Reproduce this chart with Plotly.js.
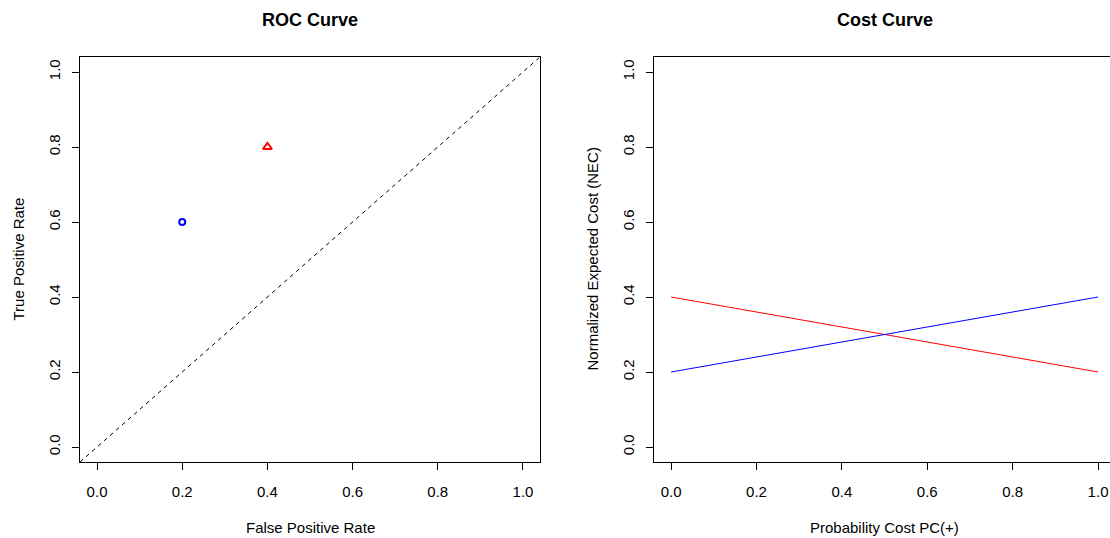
<!DOCTYPE html>
<html>
<head>
<meta charset="utf-8">
<script src="https://cdn.plot.ly/plotly-3.0.1.min.js"></script>
<style>html,body{margin:0;padding:0;background:#fff;}#chart{width:1110px;height:538px;}</style>
</head>
<body>
<div id="chart"></div>
<script>
// ROC points (FPR, TPR)
const rocBlueFPR = [0.2];
const rocBlueTPR = [0.6];
const rocRedFPR = [0.4];
const rocRedTPR = [0.8];
// Cost curve: probability cost PC(+) and normalized expected cost
const pcValues = [0.0, 1.0];
const necRed = [0.4, 0.2];
const necBlue = [0.2, 0.4];
const tickVals = [0, 0.2, 0.4, 0.6, 0.8, 1.0];
const tickText = ["0.0", "0.2", "0.4", "0.6", "0.8", "1.0"];

const FONT = "Liberation Sans, Arial, sans-serif";
const W = 1110, H = 538;

const traces = [
  {x: rocBlueFPR, y: rocBlueTPR, xaxis: "x", yaxis: "y", mode: "markers", type: "scatter",
   marker: {symbol: "circle-open", size: 6, color: "#0000ff", line: {width: 2, color: "#0000ff"}}, hoverinfo: "x+y"},
  {x: rocRedFPR, y: rocRedTPR, xaxis: "x", yaxis: "y", mode: "markers", type: "scatter",
   marker: {symbol: "triangle-up-open", size: 8, color: "#ff0000", line: {width: 2, color: "#ff0000"}}, hoverinfo: "x+y"},
  {x: pcValues, y: necRed, xaxis: "x2", yaxis: "y2", mode: "lines", type: "scatter",
   line: {color: "#ff0000", width: 1}},
  {x: pcValues, y: necBlue, xaxis: "x2", yaxis: "y2", mode: "lines", type: "scatter",
   line: {color: "#0000ff", width: 1}}
];

function ax(domain, range, extra) {
  return Object.assign({
    domain: domain, range: range, autorange: false,
    tickmode: "array", tickvals: tickVals, ticktext: tickText,
    ticks: "outside", ticklen: 7, tickwidth: 1, tickcolor: "#000",
    showline: true, linecolor: "#000", linewidth: 1,
    showgrid: false, zeroline: false, fixedrange: true,
    tickfont: {family: FONT, size: 15, color: "#000"}
  }, extra || {});
}

const yDom = [76 / H, 481 / H];

const layout = {
  width: W, height: H,
  margin: {l: 0, r: 0, t: 0, b: 0, pad: 0},
  paper_bgcolor: "#fff", plot_bgcolor: "#fff",
  showlegend: false,
  xaxis: ax([80 / W, 540 / W], [-0.04, 1.04], {anchor: "y", mirror: true, ticklabelstandoff: 9}),
  yaxis: ax(yDom, [-0.04, 1.04], {anchor: "x", mirror: true, tickangle: -90, ticklabelstandoff: 6}),
  xaxis2: ax([654 / W, 1], [-0.04, 1.028], {anchor: "y2", mirror: true, ticklabelstandoff: 9}),
  yaxis2: ax(yDom, [-0.04, 1.04], {anchor: "x2", mirror: false, tickangle: -90, ticklabelstandoff: 6}),
  shapes: [
    {type: "line", xref: "x domain", yref: "y domain", x0: 0, y0: 0, x1: 1, y1: 1,
     line: {color: "#000", width: 1, dash: "4px,4px"}}
  ],
  annotations: [
    {text: "<b>ROC Curve</b>", xref: "paper", yref: "paper", x: 310 / W, y: (H - 20) / H,
     xanchor: "center", yanchor: "middle", showarrow: false, font: {family: FONT, size: 18, color: "#000"}},
    {text: "<b>Cost Curve</b>", xref: "paper", yref: "paper", x: 884.5 / W, y: (H - 20) / H,
     xanchor: "center", yanchor: "middle", showarrow: false, font: {family: FONT, size: 18, color: "#000"}},
    {text: "False Positive Rate", xref: "paper", yref: "paper", x: 310 / W, y: (H - 527) / H,
     xanchor: "center", yanchor: "middle", showarrow: false, font: {family: FONT, size: 15, color: "#000"}},
    {text: "Probability Cost PC(+)", xref: "paper", yref: "paper", x: 884.5 / W, y: (H - 527) / H,
     xanchor: "center", yanchor: "middle", showarrow: false, font: {family: FONT, size: 15, color: "#000"}},
    {text: "True Positive Rate", xref: "paper", yref: "paper", x: 18 / W, y: (H - 259.5) / H,
     xanchor: "center", yanchor: "middle", textangle: -90, showarrow: false, font: {family: FONT, size: 15, color: "#000"}},
    {text: "Normalized Expected Cost (NEC)", xref: "paper", yref: "paper", x: 592 / W, y: (H - 259.5) / H,
     xanchor: "center", yanchor: "middle", textangle: -90, showarrow: false, font: {family: FONT, size: 15, color: "#000"}}
  ]
};

Plotly.newPlot("chart", traces, layout, {displayModeBar: false, staticPlot: true});
</script>
</body>
</html>
